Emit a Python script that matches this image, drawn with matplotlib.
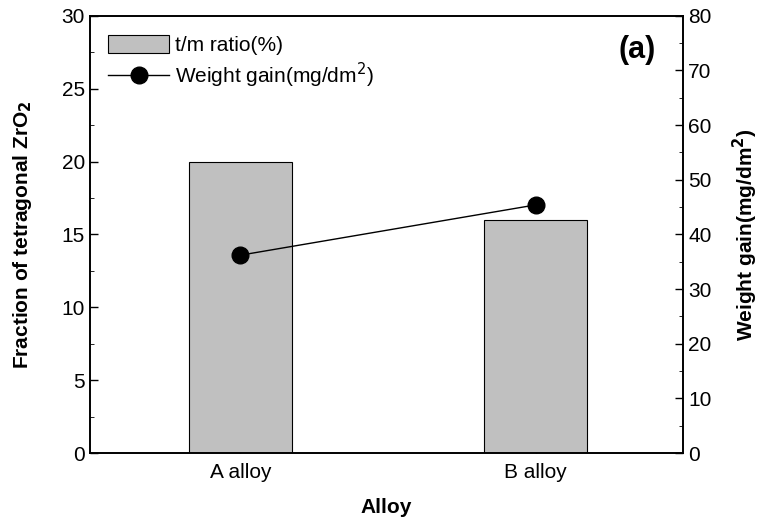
import numpy as np
import matplotlib.pyplot as plt
from matplotlib.ticker import MultipleLocator

plt.rcParams['font.family'] = ['Liberation Sans', 'DejaVu Sans']

alloys = ['A alloy', 'B alloy']
tm_ratio = [20, 16]
weight_gain = [36.2, 45.4]

fig = plt.figure(figsize=(7.6, 5.28), dpi=100)
ax = fig.add_axes([0.118, 0.142, 0.781, 0.828])
x = np.arange(len(alloys))

b = ax.bar(x, tm_ratio, width=0.35, color='#c0c0c0', edgecolor='black', linewidth=0.8,
           label='t/m ratio(%)', zorder=2)
ax.set_xlim(-0.51, 1.5)
ax.set_ylim(0, 30)
ax.yaxis.set_major_locator(MultipleLocator(5))
ax.yaxis.set_minor_locator(MultipleLocator(2.5))
ax.set_xticks(x)
ax.set_xticklabels(alloys)
ax.tick_params(direction='in', labelsize=15, width=1, length=6)
ax.tick_params(which='minor', direction='in', length=3)
ax.tick_params(axis='x', pad=7)
ax.set_xlabel('Alloy', fontsize=15, fontweight='bold', labelpad=12)
ax.set_ylabel('Fraction of tetragonal ZrO$_\\mathbf{2}$', fontsize=15, fontweight='bold', labelpad=20)

ax2 = ax.twinx()
l, = ax2.plot(x, weight_gain, color='black', linewidth=1, marker='o', markersize=12,
              label='Weight gain(mg/dm$^2$)')
ax2.set_ylim(0, 80)
ax2.yaxis.set_major_locator(MultipleLocator(10))
ax2.yaxis.set_minor_locator(MultipleLocator(5))
ax2.tick_params(direction='in', labelsize=15, width=1, length=6)
ax2.tick_params(which='minor', direction='in', length=3)
ax2.set_ylabel('Weight gain(mg/dm$^\\mathbf{2}$)', fontsize=15, fontweight='bold', labelpad=14)

for a in (ax, ax2):
    for s in a.spines.values():
        s.set_linewidth(1.2)

ax.legend([b, l], ['t/m ratio(%)', 'Weight gain(mg/dm$^2$)'], loc='upper left',
          frameon=False, fontsize=15, handlelength=2.9, handleheight=1.0,
          borderaxespad=0.5, labelspacing=0.3, handletextpad=0.3)
ax.text(0.953, 0.922, '(a)', transform=ax.transAxes, ha='right', va='center',
        fontsize=22, fontweight='bold')

fig.savefig('out.png', dpi=100)
